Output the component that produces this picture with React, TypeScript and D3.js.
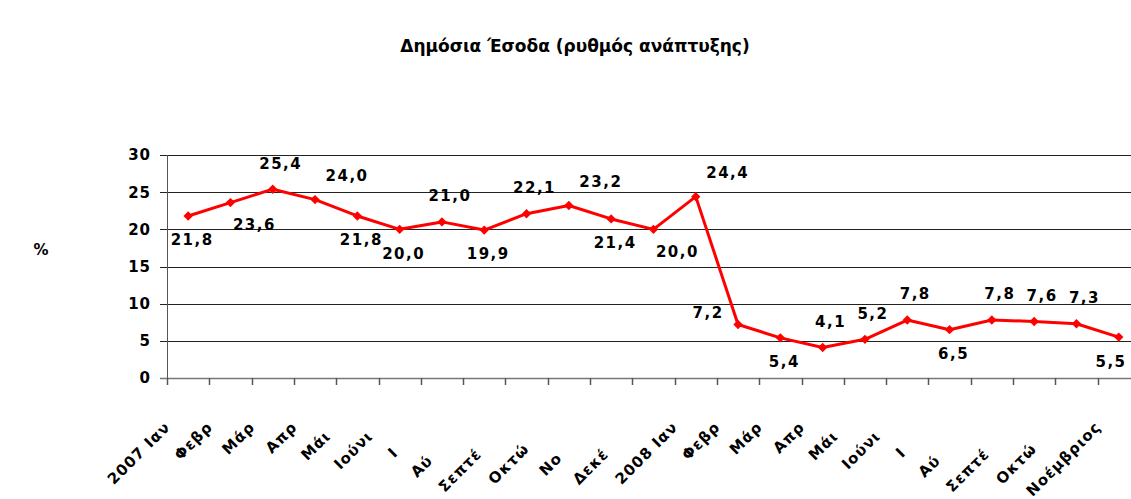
import * as d3 from "d3";

// months as written in the source chart; only the first `shown` characters are visible there
const monthLabels = [
  "2007 Ιαν", "Φεβρ", "Μάρ", "Απρ", "Μάιος", "Ιούνιος", "Ιούλιος", "Αύγουστος",
  "Σεπτέμβριος", "Οκτώβριος", "Νοέμβριος", "Δεκέμβριος",
  "2008 Ιαν", "Φεβρ", "Μάρ", "Απρ", "Μάιος", "Ιούνιος", "Ιούλιος", "Αύγουστος",
  "Σεπτέμβριος", "Οκτώβριος", "Νοέμβριος",
];
const shownChars = [8, 4, 3, 3, 3, 5, 1, 2, 5, 4, 2, 4, 8, 4, 3, 3, 3, 5, 1, 2, 5, 4, 9];

const growth = [
  21.8, 23.6, 25.4, 24.0, 21.8, 20.0, 21.0, 19.9, 22.1, 23.2, 21.4, 20.0,
  24.4, 7.2, 5.4, 4.1, 5.2, 7.8, 6.5, 7.8, 7.6, 7.3, 5.5,
];
// where excel put each data label: a = above, ar = above right, b = below, br = below right, l = left
const labelSide = [
  "b", "br", "a", "ar", "b", "b", "a", "b", "a", "ar", "b", "br",
  "ar", "l", "b", "a", "a", "a", "b", "a", "a", "a", "b",
];

const yTicks = [0, 5, 10, 15, 20, 25, 30];

const W = 1131;
const H = 499;
const left = 167;
const step = 42.3;
const FONT = "'DejaVu Sans', sans-serif";

const offsets: Record<string, [number, number]> = {
  a: [8, -26],
  ar: [32, -24],
  b: [4, 24],
  br: [24, 22],
  l: [-30, -12],
};

export default function App() {
  const x = d3
    .scaleBand<number>()
    .domain(d3.range(growth.length))
    .range([left, left + step * growth.length])
    .padding(0);
  const y = d3.scaleLinear().domain([0, 30]).range([378, 155]);

  const cx = (i: number) => (x(i) ?? 0) + x.bandwidth() / 2;

  const line = d3
    .line<number>()
    .x((_, i) => cx(i))
    .y((d) => y(d));

  const diamond = d3.symbol(d3.symbolSquare, 44)() || "";
  const fmt = (v: number) => v.toFixed(1).replace(".", ",");

  return (
    <div style={{ position: "absolute", left: 0, top: 0 }}>
      <svg width={W} height={H} style={{ display: "block", background: "#fff" }}>
        <text
          x={575}
          y={52}
          textAnchor="middle"
          fontFamily={FONT}
          fontWeight="bold"
          fontSize={17}
        >
          Δημόσια Έσοδα (ρυθμός ανάπτυξης)
        </text>

        <text x={41} y={255} textAnchor="middle" fontFamily={FONT} fontWeight="bold" fontSize={15}>
          %
        </text>

        {/* grid + y ticks */}
        {yTicks.map((t) => (
          <g key={t}>
            {t > 0 && (
              <line
                x1={left - 7}
                x2={W}
                y1={Math.round(y(t)) + 0.5}
                y2={Math.round(y(t)) + 0.5}
                stroke="#222"
                strokeWidth={1}
              />
            )}
            <text
              x={151}
              y={y(t)}
              dy="0.36em"
              textAnchor="end"
              fontFamily={FONT}
              fontWeight="bold"
              fontSize={15}
              letterSpacing={1}
            >
              {t}
            </text>
          </g>
        ))}

        {/* axes */}
        <line x1={left + 0.5} x2={left + 0.5} y1={y(30)} y2={y(0)} stroke="#555" />
        <line x1={left - 7} x2={W} y1={Math.round(y(0)) + 0.5} y2={Math.round(y(0)) + 0.5} stroke="#777" strokeWidth={1.5} />
        {d3.range(growth.length + 1).map((i) => {
          const tx = Math.round(left + i * x.bandwidth()) + 0.5;
          return <line key={i} x1={tx} x2={tx} y1={y(0)} y2={y(0) + 7} stroke="#555" strokeWidth={1.5} />;
        })}

        {/* x labels: the cut-off tail is kept as invisible text so the visible part sits where excel left it */}
        {monthLabels.map((m, i) => (
          <text
            key={i}
            transform={`translate(${cx(i) - 17},${428}) rotate(-45)`}
            textAnchor="end"
            fontFamily={FONT}
            fontWeight="bold"
            fontSize={15}
            letterSpacing={1}
          >
            <tspan>{m.slice(0, shownChars[i])}</tspan>
            <tspan fill="none" fontSize={10} letterSpacing={0}>
              {m.slice(shownChars[i])}
            </tspan>
          </text>
        ))}

        {/* series */}
        <path d={line(growth) || ""} fill="none" stroke="#ff0000" strokeWidth={3} strokeLinejoin="round" />
        {growth.map((v, i) => (
          <path key={i} d={diamond} transform={`translate(${cx(i)},${y(v)}) rotate(45)`} fill="#ff0000" />
        ))}

        {/* data labels */}
        {growth.map((v, i) => {
          const [dx, dy] = offsets[labelSide[i]];
          return (
            <text
              key={i}
              x={Math.min(cx(i) + dx, W - 20)}
              y={y(v) + dy}
              dy="0.36em"
              textAnchor="middle"
              fontFamily={FONT}
              fontWeight="bold"
              fontSize={15}
              letterSpacing={1.5}
            >
              {fmt(v)}
            </text>
          );
        })}
      </svg>
    </div>
  );
}
